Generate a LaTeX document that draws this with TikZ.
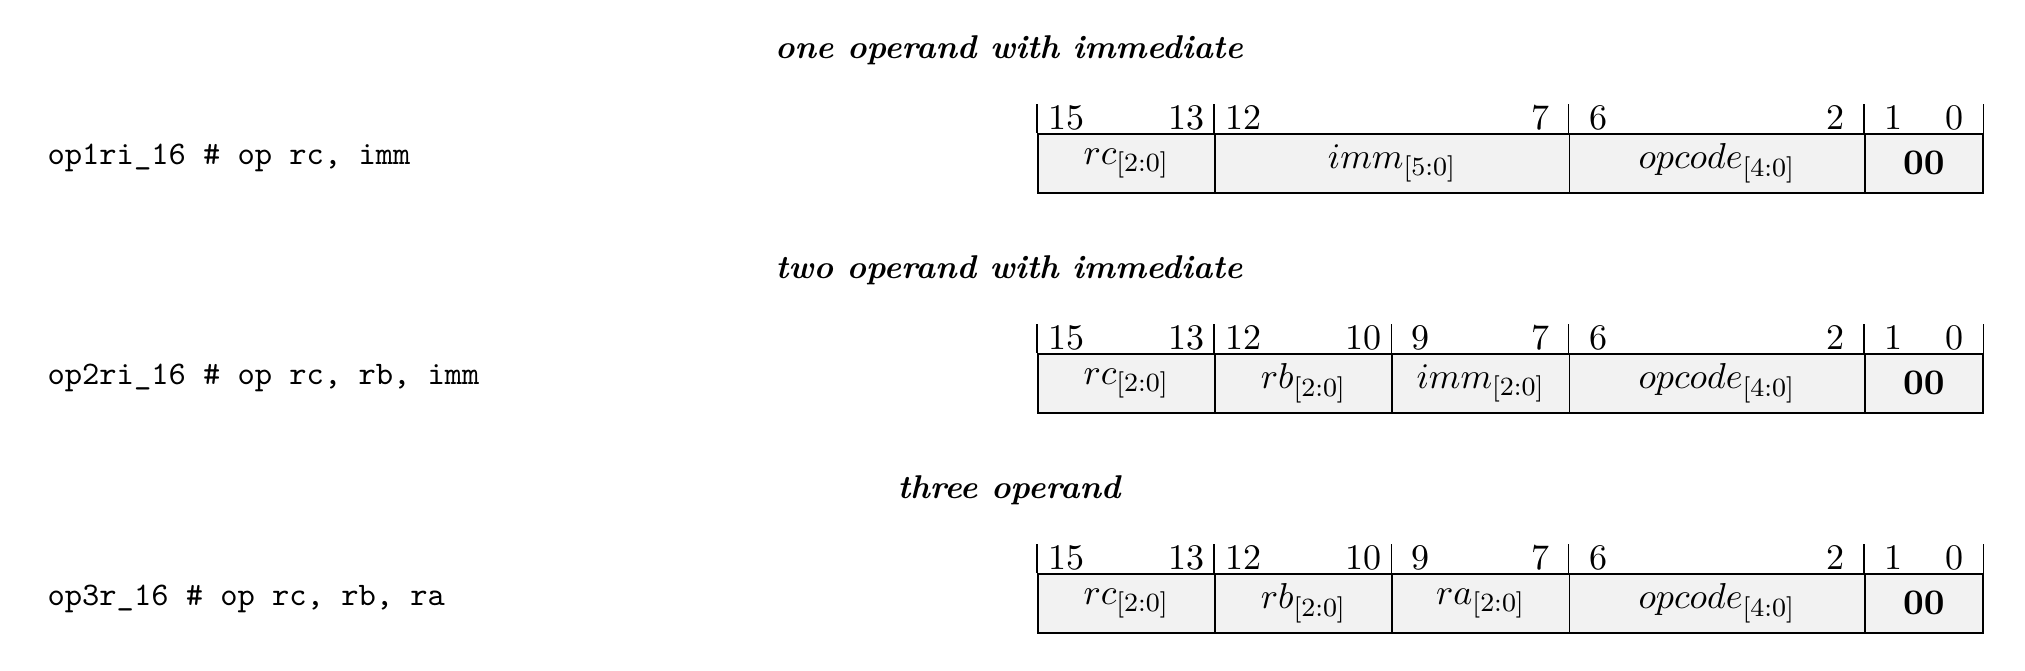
\documentclass[tikz,border=0pt]{standalone}
\begin{document}
\begin{tikzpicture}[x=0.30395pt,y=-0.30395pt,
  field/.style={draw, line width=0.5pt, fill=black!5, minimum height=17.93pt, inner sep=0pt, anchor=north west, font=\fontsize{10.95pt}{13.6pt}\selectfont},
  bitlbl/.style={inner sep=0pt, anchor=base, font=\fontsize{10.95pt}{13.6pt}\selectfont},
  tick/.style={line width=0.5pt},
  codelbl/.style={inner sep=0pt, anchor=base west, font=\ttfamily},
  titlelbl/.style={inner sep=0pt, anchor=base, font=\bfseries\itshape}]
\useasboundingbox (0,0) rectangle (2025,671);

% titles
\node[titlelbl] (t1) at (1009,59) {one operand with immediate};
\node[titlelbl] (t2) at (1009,279) {two operand with immediate};
\node[titlelbl] (t3) at (1009,499) {three operand};

% code labels
\node[codelbl] (c1) at (47,165) {op1ri\_16 \# op rc, imm};
\node[codelbl] (c2) at (47,385) {op2ri\_16 \# op rc, rb, imm};
\node[codelbl] (c3) at (47,605) {op3r\_16 \# op rc, rb, ra};

% row 1
\foreach \n/\s/\e/\hi/\lo/\t in {rc/0/3/15/13/{$rc_{[2:0]}$},
    im/3/9/12/7/{$imm_{[5:0]}$},
    op/9/14/6/2/{$opcode_{[4:0]}$},
    zz/14/16/1/0/{$\mathbf{00}$}}{
  \node[field, minimum width={(\e-\s)*17.952pt}] (a\n) at ({1037+\s*59.0625},133) {\t};
  \node[bitlbl] (a\n-hi) at ([xshift=8.976pt,yshift=1.05pt]a\n.north west) {\hi};
  \node[bitlbl] (a\n-lo) at ([xshift=-8.976pt,yshift=1.05pt]a\n.north east) {\lo};
  \coordinate (a\n-tk) at ([yshift=8.8pt]a\n.north west);
  \draw[tick] (a\n.north west) -- (a\n-tk);
}
\coordinate (azz-tkr) at ([yshift=8.8pt]azz.north east);
\draw[tick] (azz.north east) -- (azz-tkr);

% row 2
\foreach \n/\s/\e/\hi/\lo/\t in {rc/0/3/15/13/{$rc_{[2:0]}$},
    rb/3/6/12/10/{$rb_{[2:0]}$},
    im/6/9/9/7/{$imm_{[2:0]}$},
    op/9/14/6/2/{$opcode_{[4:0]}$},
    zz/14/16/1/0/{$\mathbf{00}$}}{
  \node[field, minimum width={(\e-\s)*17.952pt}] (b\n) at ({1037+\s*59.0625},353) {\t};
  \node[bitlbl] (b\n-hi) at ([xshift=8.976pt,yshift=1.05pt]b\n.north west) {\hi};
  \node[bitlbl] (b\n-lo) at ([xshift=-8.976pt,yshift=1.05pt]b\n.north east) {\lo};
  \coordinate (b\n-tk) at ([yshift=8.8pt]b\n.north west);
  \draw[tick] (b\n.north west) -- (b\n-tk);
}
\coordinate (bzz-tkr) at ([yshift=8.8pt]bzz.north east);
\draw[tick] (bzz.north east) -- (bzz-tkr);

% row 3
\foreach \n/\s/\e/\hi/\lo/\t in {rc/0/3/15/13/{$rc_{[2:0]}$},
    rb/3/6/12/10/{$rb_{[2:0]}$},
    ra/6/9/9/7/{$ra_{[2:0]}$},
    op/9/14/6/2/{$opcode_{[4:0]}$},
    zz/14/16/1/0/{$\mathbf{00}$}}{
  \node[field, minimum width={(\e-\s)*17.952pt}] (c\n) at ({1037+\s*59.0625},573) {\t};
  \node[bitlbl] (c\n-hi) at ([xshift=8.976pt,yshift=1.05pt]c\n.north west) {\hi};
  \node[bitlbl] (c\n-lo) at ([xshift=-8.976pt,yshift=1.05pt]c\n.north east) {\lo};
  \coordinate (c\n-tk) at ([yshift=8.8pt]c\n.north west);
  \draw[tick] (c\n.north west) -- (c\n-tk);
}
\coordinate (czz-tkr) at ([yshift=8.8pt]czz.north east);
\draw[tick] (czz.north east) -- (czz-tkr);
\end{tikzpicture}
\end{document}
